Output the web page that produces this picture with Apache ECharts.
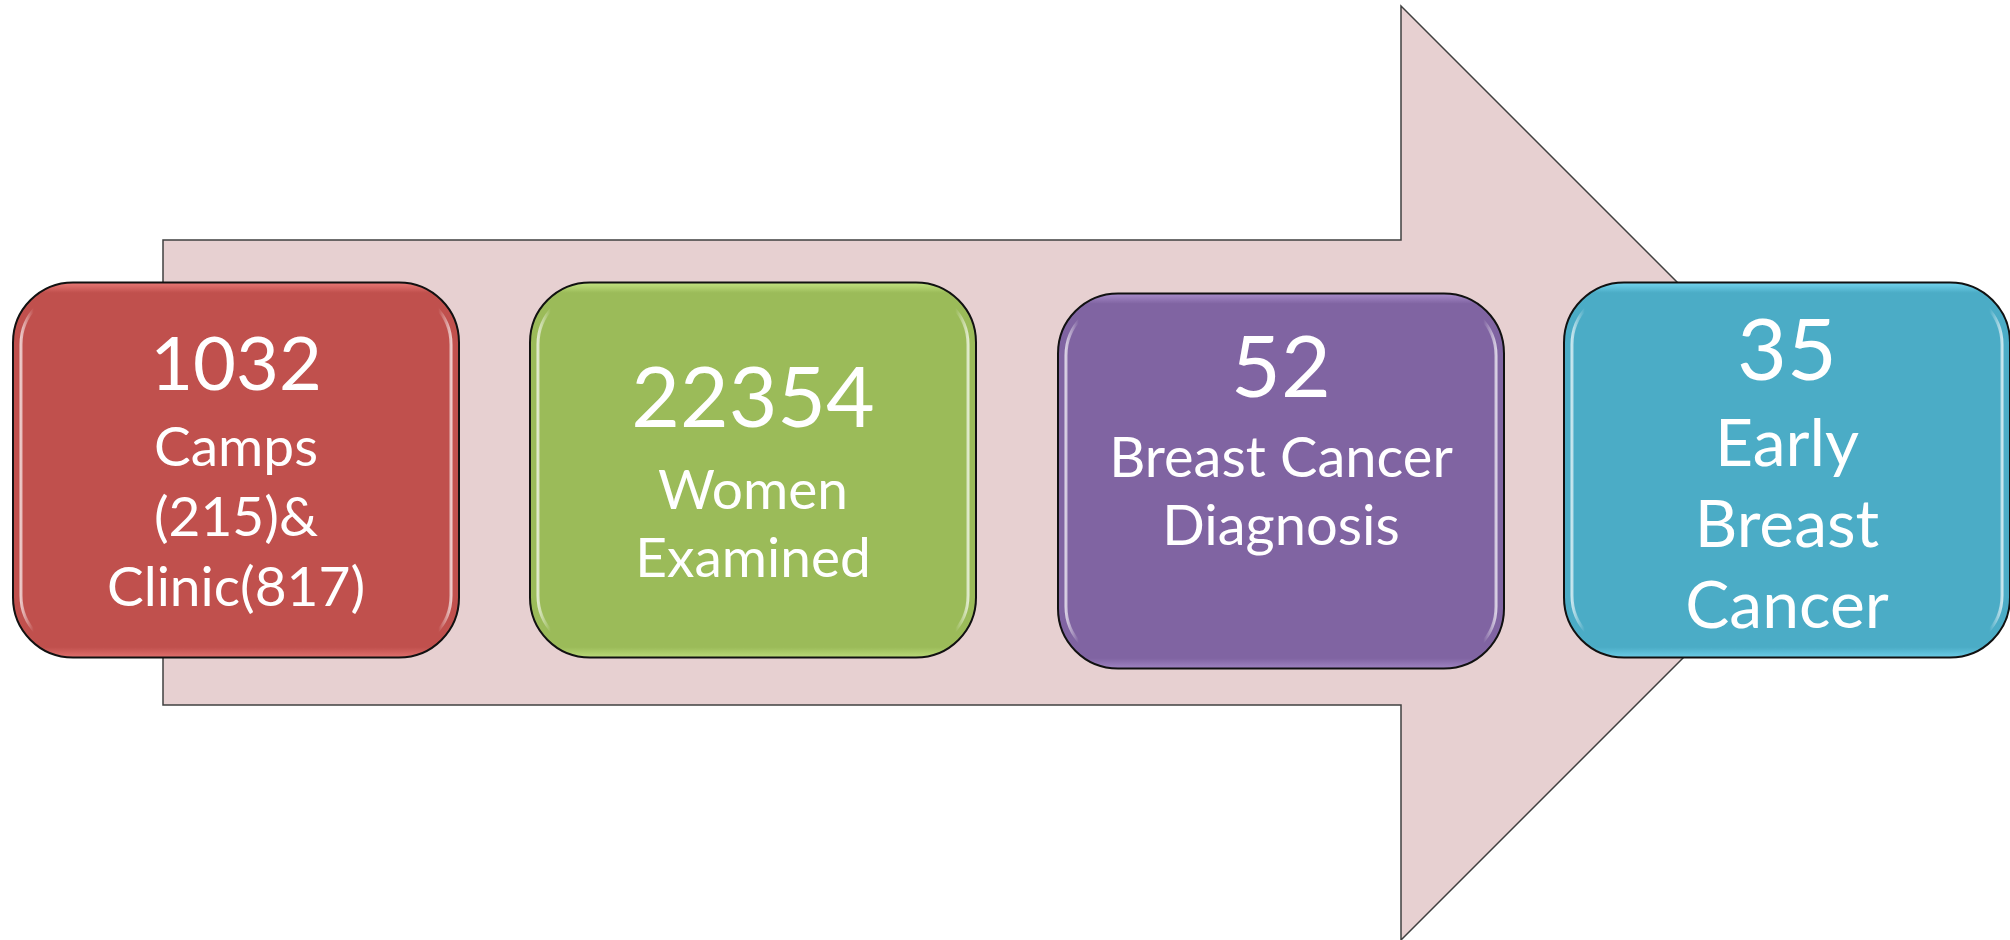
<!DOCTYPE html>
<html>
<head>
<meta charset="utf-8">
<script src="https://cdn.jsdelivr.net/npm/echarts@6/dist/echarts.min.js"></script>
<style>
  html, body { margin: 0; padding: 0; background: #fff; }
  #chart { width: 2010px; height: 940px; }
</style>
</head>
<body>
<div id="chart"></div>
<script>
// step values and their captions
var stepValues = ['1032', '22354', '52', '35']
var stepCaptions = [
  ['Camps', '(215)&', 'Clinic(817)'],
  ['Women', 'Examined'],
  ['Breast Cancer', 'Diagnosis'],
  ['Early', 'Breast', 'Cancer']
]
var stepColors = ['#C0504D', '#9BBB59', '#8064A2', '#4BACC6']

// per box look (font sizes, nudges)
var boxLook = [
  { dx: 0, dy: 0, ty: 1, numSize: 74, numLH: 95, capSize: 55, capLH: 70 },
  { dx: 0, dy: 0, ty: -2, numSize: 84, numLH: 115, capSize: 55, capLH: 68 },
  { dx: 11, dy: 11, ty: -33, numSize: 86, numLH: 112, capSize: 56, capLH: 68 },
  { dx: 0, dy: 0, ty: 4, numSize: 86, numLH: 104, capSize: 66, capLH: 81 }
]
var BOX_W = 446
var BOX_H = 375
var FONT = 'Lato, "Open Sans", sans-serif'

function shade(hex, amt) {
  var n = parseInt(hex.slice(1), 16)
  var r = Math.min(255, Math.max(0, (n >> 16) + amt))
  var g = Math.min(255, Math.max(0, ((n >> 8) & 255) + amt))
  var b = Math.min(255, Math.max(0, (n & 255) + amt))
  return 'rgb(' + r + ',' + g + ',' + b + ')'
}

var chart = echarts.init(document.getElementById('chart'))

chart.setOption({
  backgroundColor: '#ffffff',
  animation: false,
  grid: { left: 236, right: 223, top: 0, bottom: 0 },
  xAxis: {
    type: 'category',
    boundaryGap: false,
    data: stepValues,
    show: false
  },
  yAxis: { type: 'value', min: -1, max: 1, show: false },
  graphic: [{
    type: 'polygon',
    z: -10,
    shape: {
      points: [[163, 240], [1401, 240], [1401, 6], [1868, 473], [1401, 940], [1401, 705], [163, 705]]
    },
    style: { fill: '#E7D0D1', stroke: '#404040', lineWidth: 1.5 }
  }],
  series: [{
    type: 'custom',
    z: 10,
    data: stepValues.map(function (v, i) { return [i, 0] }),
    renderItem: function (params, api) {
      var i = params.dataIndex
      var look = boxLook[i]
      var c = api.coord([i, 0])
      var cx = c[0] + look.dx
      var cy = c[1] + look.dy
      var x0 = cx - BOX_W / 2
      var y0 = cy - BOX_H / 2
      var base = stepColors[i]
      var lines = ['{n|' + stepValues[i] + '}'].concat(stepCaptions[i].map(function (t) { return '{t|' + t + '}' }))
      return {
        type: 'group',
        children: [{
          type: 'rect',
          shape: { x: x0, y: y0, width: BOX_W, height: BOX_H, r: 60 },
          style: {
            fill: new echarts.graphic.LinearGradient(0, 0, 0, 1, [
              { offset: 0, color: shade(base, 45) },
              { offset: 0.03, color: base },
              { offset: 0.97, color: base },
              { offset: 1, color: shade(base, 35) }
            ]),
            stroke: '#111',
            lineWidth: 2
          }
        }, {
          type: 'rect',
          shape: { x: x0 + 8, y: y0 + 8, width: BOX_W - 16, height: BOX_H - 16, r: 54 },
          style: {
            fill: 'none',
            stroke: new echarts.graphic.LinearGradient(0, 0, 1, 0, [
              { offset: 0, color: 'rgba(255,255,255,0.8)' },
              { offset: 0.035, color: 'rgba(255,255,255,0)' },
              { offset: 0.965, color: 'rgba(255,255,255,0)' },
              { offset: 1, color: 'rgba(255,255,255,0.8)' }
            ]),
            lineWidth: 3
          }
        }, {
          type: 'text',
          style: {
            x: cx,
            y: c[1] + look.ty,
            text: lines.join('\n'),
            align: 'center',
            verticalAlign: 'middle',
            rich: {
              n: { fill: '#fff', fontFamily: FONT, fontSize: look.numSize, lineHeight: look.numLH },
              t: { fill: '#fff', fontFamily: FONT, fontSize: look.capSize, lineHeight: look.capLH }
            }
          }
        }]
      }
    }
  }]
})
</script>
</body>
</html>
